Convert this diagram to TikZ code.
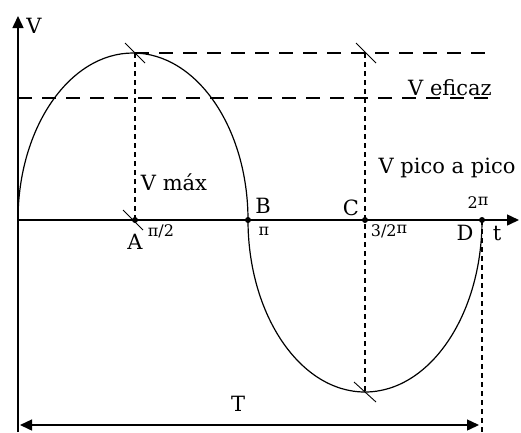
\documentclass[tikz,border=0pt]{standalone}
\usepackage{fontspec}
\setmainfont{DejaVu Serif}
\usepackage{tikz}
\usetikzlibrary{arrows.meta}
\tikzset{
  ax/.style={line width=1.5pt, -{Triangle[length=12pt,width=11pt]}},
  dim/.style={line width=1.4pt, {Triangle[length=12pt,width=11pt]}-{Triangle[length=12pt,width=11pt]}},
  lng/.style={line width=1.1pt, dash pattern=on 14pt off 10pt},
  sht/.style={line width=1.2pt, dash pattern=on 5pt off 4pt},
  pt/.style={circle, fill=black, inner sep=0pt, minimum size=6pt},
  lbl/.style={font=\fontsize{21}{23}\selectfont, inner sep=0pt},
  pil/.style={font=\fontsize{16}{18}\selectfont, inner sep=0pt}
}

\begin{document}
\begin{tikzpicture}[x=1pt,y=-1pt]
  \useasboundingbox (0,0) rectangle (521,432);
  % ---- ejes ----
  \coordinate (o)    at (18,220);
  \coordinate (ytop) at (18,16);
  \coordinate (ybot) at (18,432);
  \coordinate (xend) at (519,220);
  \draw[line width=1.5pt] (ybot) -- (o);
  \draw[ax] (o) -- (ytop);
  \draw[ax] (o) -- (xend);

  % puntos sobre el eje
  \node[pt] (a) at (135,220) {};
  \node[pt] (b) at (248,220) {};
  \node[pt] (c) at (365,220) {};
  \node[pt] (d) at (482,220) {};

  % ---- onda ----
  \draw[line width=1.2pt] (o) arc[start angle=180, end angle=360, x radius=115, y radius=167];
  \draw[line width=1.2pt] (b.center) arc[start angle=180, end angle=0, x radius=117, y radius=172];

  % ---- guias ----
  \coordinate (pk)  at (135,53);
  \coordinate (pkc) at (365,53);
  \coordinate (pkr) at (490,53);
  \coordinate (tr)  at (365,392);
  \coordinate (ef0) at (18,98);
  \coordinate (ef1) at (490,98);
  \coordinate (dbot) at (482,432);
  \draw[lng] (pk) -- (pkr);
  \draw[lng] (ef0) -- (ef1);
  \draw[sht] (pk) -- (a.center);
  \draw[sht] (pkc) -- (tr);
  \draw[sht] (d.center) -- (dbot);

  % marcas
  \draw[line width=0.9pt] (pk)  +(-10,-10) -- +(10,10);
  \draw[line width=0.9pt] (pkc) +(-9,-10) -- +(11,10);
  \draw[line width=0.9pt] (a)   +(-12,-10) -- +(8,10);
  \draw[line width=0.9pt] (tr)  +(-11,-10) -- +(11,10);

  % periodo
  \coordinate (t0) at (20,425);
  \coordinate (t1) at (479,425);
  \draw[dim] (t0) -- (t1);

  % ---- rotulos ----
  \node[lbl] (lv)  at (34,26)   {V};
  \node[lbl] (lt)  at (497,233) {t};
  \node[lbl] (lT)  at (238,404) {T};
  \node[lbl] (lef) at (450,88)  {V eficaz};
  \node[lbl] (lmx) at (174,182) {V máx};
  \node[lbl] (lpp) at (447,168) {V pico a pico};
  \node[lbl] (la)  at (135,242) {A};
  \node[lbl] (lb)  at (263,206) {B};
  \node[lbl] (lc)  at (351,208) {C};
  \node[lbl] (ld)  at (465,233) {D};
  \node[pil] (pa)  at (161,231) {π/2};
  \node[pil] (pb)  at (264,231) {π};
  \node[pil] (pc)  at (389,231) {3/2\raisebox{3pt}{π}};
  \node[pil] (pd)  at (478,203) {2\raisebox{3pt}{π}};
\end{tikzpicture}
\end{document}
